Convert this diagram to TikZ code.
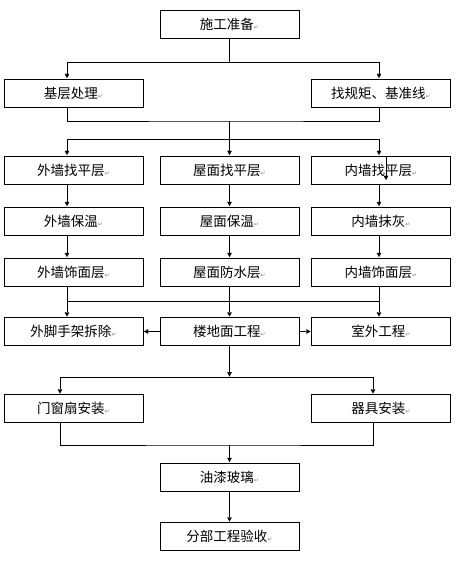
\documentclass[tikz,border=0pt]{standalone}
\usepackage{fontspec}
\setmainfont{Noto Sans CJK SC}
\newfontfamily\markfont{DejaVu Sans}
\usetikzlibrary{arrows.meta, positioning}
\newcommand{\retmark}{{\markfont\fontsize{6}{6}\selectfont\color{gray}↵}}

\begin{document}
\begin{tikzpicture}[x=1pt, y=-1pt]
	\tikzset {>={Triangle[length=5pt, width=5pt]}, line width=0.8pt,
		task/.style={draw, minimum width=139pt, minimum height=28pt, inner sep=0pt, font=\fontsize{13.5}{14}\selectfont},
		flow/.style={->}}
	\useasboundingbox (0,0) rectangle (475,569);
	
	\node[task] (prep) at (229.5,24.5) {施工准备\retmark};
	\node[task] (base) at (73.5,93) {基层处理\retmark};
	\node[task] (axis) at (381,93) {找规矩、基准线\retmark};
	
	\node[task] (ext1) at (73.5,170) {外墙找平层\retmark};
	\node[task] (roof1) at (229.5,170) {屋面找平层\retmark};
	\node[task] (int1) at (381,170) {内墙找平层\retmark};
	\node[task] (ext2) at (73.5,221) {外墙保温\retmark};
	\node[task] (roof2) at (229.5,221) {屋面保温\retmark};
	\node[task] (int2) at (381,221) {内墙抹灰\retmark};
	\node[task] (ext3) at (73.5,272) {外墙饰面层\retmark};
	\node[task] (roof3) at (229.5,272) {屋面防水层\retmark};
	\node[task] (int3) at (381,272) {内墙饰面层\retmark};
	
	\node[task] (scaf) at (73.5,331.5) {外脚手架拆除\retmark};
	\node[task] (floor) at (229.5,331.5) {楼地面工程\retmark};
	\node[task] (outd) at (381,331.5) {室外工程\retmark};
	
	\node[task] (door) at (73.5,408.5) {门窗扇安装\retmark};
	\node[task] (fixt) at (381,408.5) {器具安装\retmark};
	\node[task] (paint) at (229.5,477) {油漆玻璃\retmark};
	\node[task] (check) at (229.5,536.5) {分部工程验收\retmark};
	
	\coordinate (j1) at (229.5,62);
	\coordinate (j2) at (229.5,121);
	\coordinate (j3) at (229.5,139);
	\coordinate (j4l) at (67,301);
	\coordinate (j4r) at (379,301);
	\coordinate (j5) at (229.5,377);
	\coordinate (j6) at (229.5,445);
	
	% preparation
	\draw (prep) -- (j1);
	\draw[flow] (j1) -| ([xshift=-6.5pt]base.north);
	\draw[flow] (j1) -| ([xshift=-2pt]axis.north);
	\draw ([xshift=-6.5pt]base.south) |- (j2) -| ([xshift=-2pt]axis.south);
	\draw (j2) -- (j3);
	\draw[flow] (j3) -| ([xshift=-6.5pt]ext1.north);
	\draw[flow] (j3) -- (roof1);
	\draw[flow] (j3) -| ([xshift=-2pt]int1.north);
	\draw[flow] ([xshift=5pt]int1.north) -- ++(0,25);
	
	% three columns
	\draw[flow] ([xshift=-6.5pt]ext1.south) -- ([xshift=-6.5pt]ext2.north);
	\draw[flow] ([xshift=-6.5pt]ext2.south) -- ([xshift=-6.5pt]ext3.north);
	\draw[flow] (roof1) -- (roof2);
	\draw[flow] (roof2) -- (roof3);
	\draw[flow] ([xshift=-2pt]int1.south) -- ([xshift=-2pt]int2.north);
	\draw[flow] ([xshift=-2pt]int2.south) -- ([xshift=-2pt]int3.north);
	
	\draw (j4l) -- (j4r);
	\draw[flow] ([xshift=-6.5pt]ext3.south) -- ([xshift=-6.5pt]scaf.north);
	\draw[flow] (roof3) -- (floor);
	\draw[flow] ([xshift=-2pt]int3.south) -- ([xshift=-2pt]outd.north);
	\draw[flow] (floor) -- (scaf);
	\draw[flow] (floor) -- (outd);
	
	% finishing
	\draw[flow] (floor) -- (j5);
	\draw[flow] (j5) -| ([xshift=-13.5pt]door.north);
	\draw[flow] (j5) -| ([xshift=-8pt]fixt.north);
	\draw ([xshift=-13.5pt]door.south) |- (j6) -| ([xshift=-8pt]fixt.south);
	\draw[flow] (j6) -- (paint);
	\draw[flow] (paint) -- (check);
\end{tikzpicture}
\end{document}
